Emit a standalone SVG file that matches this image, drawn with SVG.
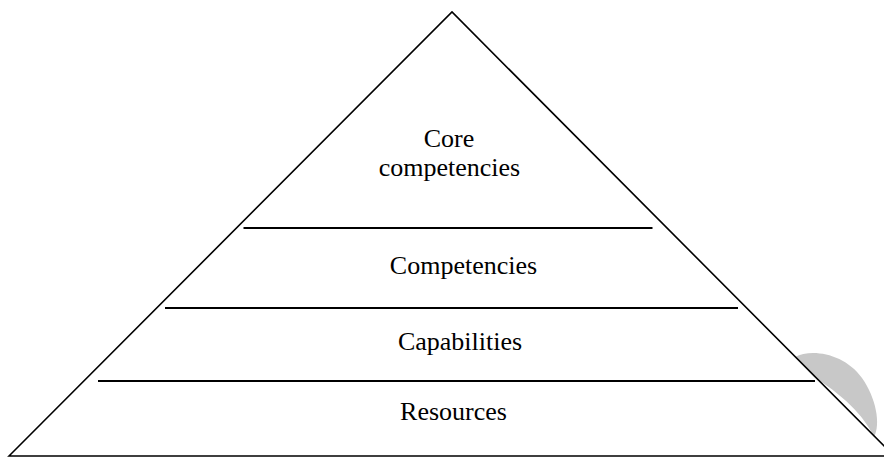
<svg xmlns="http://www.w3.org/2000/svg" width="884" height="458" viewBox="0 0 884 458">
<style>
.edge{fill:none;stroke:#000;stroke-width:1.6}
.div{stroke:#000;stroke-width:2}
.lbl{font-family:"Liberation Serif","Times New Roman",serif;font-size:26px;fill:#000;text-anchor:middle}
</style>
<rect width="884" height="458" fill="#fff"/>
<path id="crescent" d="M 795,357 C 812,348 845,354 862,378 C 876,398 881,424 874,437 C 866,420 850,400 814,377 Z" fill="#c8c8c8"/>
<g id="pyramid">
<path class="edge" d="M 9,456 L 452,12 L 894,456 Z"/>
</g>
<g id="connectors">
<line class="div" x1="243.5" y1="228" x2="652.5" y2="228"/>
<line class="div" x1="165" y1="308" x2="738" y2="308"/>
<line class="div" x1="98" y1="381" x2="815" y2="381"/>
</g>
<g id="core">
<text class="lbl" x="449" y="147">Core</text>
<text class="lbl" x="449.5" y="176">competencies</text>
</g>
<g id="competencies">
<text class="lbl" x="463.5" y="274">Competencies</text>
</g>
<g id="capabilities">
<text class="lbl" x="460" y="350">Capabilities</text>
</g>
<g id="resources">
<text class="lbl" x="453.5" y="420">Resources</text>
</g>
</svg>
